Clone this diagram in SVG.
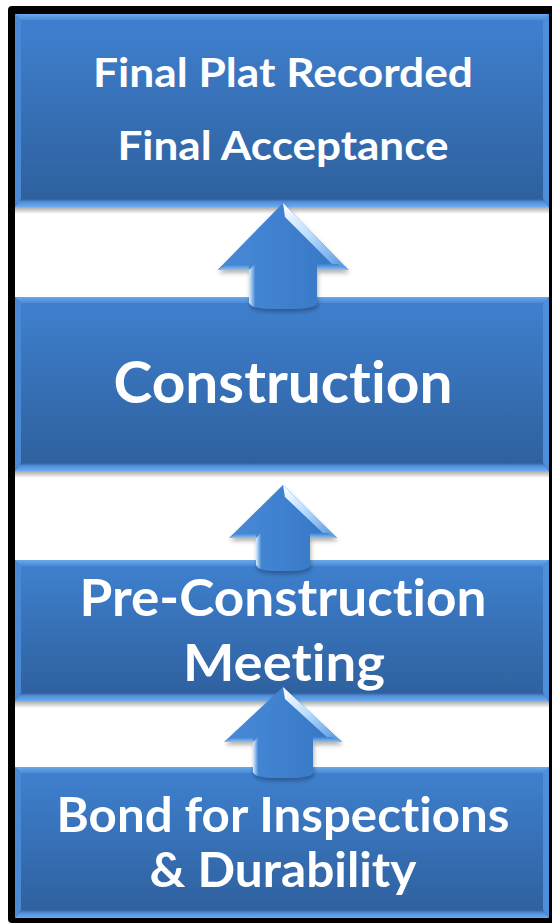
<svg xmlns="http://www.w3.org/2000/svg" width="552" height="924" viewBox="0 0 552 924">
<style>
.t{font-family:Lato,"Open Sans","Liberation Sans",sans-serif;font-weight:700;fill:#ffffff;text-anchor:middle;font-variant-ligatures:none;font-feature-settings:"liga" 0,"clig" 0}
.face{fill:url(#boxFill)}
.bt{fill:url(#bevTop)}
.bl{fill:#4a89d5}
.br{fill:#4d8fdb}
.bb{fill:url(#bevBot)}
.sh{fill:url(#shadow)}
.arrow{fill:url(#arrFill);filter:url(#ds)}
.glint{fill:url(#glint)}
.wing{fill:url(#wingHi)}
.sl{fill:url(#shaftL)}
</style>
<defs>
<linearGradient id="boxFill" x1="0" y1="0" x2="0" y2="1">
<stop offset="0" stop-color="#3f81d0"/>
<stop offset="1" stop-color="#2e5f9c"/>
</linearGradient>
<linearGradient id="bevTop" x1="0" y1="0" x2="0" y2="1">
<stop offset="0" stop-color="#6aa7ea"/>
<stop offset="1" stop-color="#4b8ad6"/>
</linearGradient>
<linearGradient id="bevBot" x1="0" y1="0" x2="0" y2="1">
<stop offset="0" stop-color="#2f619f"/>
<stop offset="0.35" stop-color="#4f8fd8"/>
<stop offset="1" stop-color="#6eaaee"/>
</linearGradient>
<linearGradient id="shadow" x1="0" y1="0" x2="0" y2="1">
<stop offset="0" stop-color="#000" stop-opacity="0.35"/>
<stop offset="1" stop-color="#000" stop-opacity="0"/>
</linearGradient>
<linearGradient id="arrFill" x1="0" y1="0" x2="1" y2="0">
<stop offset="0" stop-color="#4889d8"/>
<stop offset="0.5" stop-color="#3f81cf"/>
<stop offset="1" stop-color="#3574c2"/>
</linearGradient>
<linearGradient id="glint" x1="0" y1="0" x2="1" y2="1">
<stop offset="0" stop-color="#ffffff"/>
<stop offset="0.45" stop-color="#b9dcff"/>
<stop offset="1" stop-color="#4f90dc"/>
</linearGradient>
<linearGradient id="wingHi" x1="0" y1="0" x2="0" y2="1">
<stop offset="0" stop-color="#3d7fcd"/>
<stop offset="1" stop-color="#8cc2f5"/>
</linearGradient>
<linearGradient id="shaftL" x1="0" y1="0" x2="1" y2="0">
<stop offset="0" stop-color="#d8efff"/>
<stop offset="1" stop-color="#4a8ad6"/>
</linearGradient>
<filter id="ds" x="-20%" y="-20%" width="140%" height="150%">
<feGaussianBlur in="SourceAlpha" stdDeviation="2"/>
<feOffset dx="1" dy="3" result="b"/>
<feFlood flood-color="#000" flood-opacity="0.3"/>
<feComposite in2="b" operator="in" result="s"/>
<feMerge><feMergeNode in="s"/><feMergeNode in="SourceGraphic"/></feMerge>
</filter>
</defs>

<g id="frame">
<rect x="8" y="6" width="552" height="917" rx="4" fill="#000"/>
<rect x="15" y="14" width="534" height="904" fill="#fff"/>
</g>

<g id="box-final">
<rect class="face" x="15" y="14" width="534" height="193"/>
<polygon class="bt" points="15,14 549,14 543,20 21,20"/>
<polygon class="bl" points="15,14 21,20 21,199 15,207"/>
<polygon class="br" points="549,14 549,207 543,199 543,20"/>
<polygon class="bb" points="15,207 21,199 543,199 549,207"/>
<rect class="sh" x="15" y="207" width="534" height="7"/>
<text class="t" x="283" y="87" font-size="41" textLength="380" lengthAdjust="spacingAndGlyphs">Final Plat Recorded</text>
<text class="t" x="283" y="160" font-size="41" textLength="331" lengthAdjust="spacingAndGlyphs">Final Acceptance</text>
</g>

<g id="box-construction">
<rect class="face" x="15" y="297" width="534" height="174"/>
<polygon class="bt" points="15,297 549,297 543,303 21,303"/>
<polygon class="bl" points="15,297 21,303 21,463 15,471"/>
<polygon class="br" points="549,297 549,471 543,463 543,303"/>
<polygon class="bb" points="15,471 21,463 543,463 549,471"/>
<rect class="sh" x="15" y="471" width="534" height="7"/>
<text class="t" x="283" y="403" font-size="57" textLength="339" lengthAdjust="spacingAndGlyphs">Construction</text>
</g>

<g id="box-preconstruction">
<rect class="face" x="15" y="560" width="534" height="141"/>
<polygon class="bt" points="15,560 549,560 543,566 21,566"/>
<polygon class="bl" points="15,560 21,566 21,693 15,701"/>
<polygon class="br" points="549,560 549,701 543,693 543,566"/>
<polygon class="bb" points="15,701 21,693 543,693 549,701"/>
<rect class="sh" x="15" y="701" width="534" height="7"/>
<text class="t" x="283" y="616" font-size="52" textLength="407" lengthAdjust="spacingAndGlyphs">Pre-Construction</text>
<text class="t" x="284" y="681" font-size="52" textLength="202" lengthAdjust="spacingAndGlyphs">Meeting</text>
</g>

<g id="box-bond">
<rect class="face" x="15" y="767" width="534" height="151"/>
<polygon class="bt" points="15,767 549,767 543,773 21,773"/>
<polygon class="bl" points="15,767 21,773 21,910 15,918"/>
<polygon class="br" points="549,767 549,918 543,910 543,773"/>
<polygon class="bb" points="15,918 21,910 543,910 549,918"/>
<text class="t" x="283" y="832" font-size="47" textLength="453" lengthAdjust="spacingAndGlyphs">Bond for Inspections</text>
<text class="t" x="283" y="887" font-size="47" textLength="267" lengthAdjust="spacingAndGlyphs">&amp; Durability</text>
</g>

<g id="connectors">
<g id="arrow1">
<path class="arrow" d="M283,203 L348.5,270 L317,270 L317,303 Q317,309 283,309 Q249,309 249,303 L249,270 L217.5,270 Z"/>
<polygon class="glint" points="283,203 348.5,270 334,266 285,217"/>
<polygon class="wing" points="217.5,270 228,264 249,264 249,270"/>
<polygon class="wing" points="317,264 338,264 348.5,270 317,270"/>
<path class="sl" d="M249,270 L255,264 L255,307 Q251,306 249,303 Z"/>
</g>
<g id="arrow2">
<path class="arrow" d="M283,485 L337,538 L310,538 L310,565 Q310,571 283,571 Q256,571 256,565 L256,538 L229,538 Z"/>
<polygon class="glint" points="283,485 337,538 325,535 285,497"/>
<polygon class="wing" points="229,538 238,533 256,533 256,538"/>
<polygon class="wing" points="310,533 328,533 337,538 310,538"/>
<path class="sl" d="M256,538 L261,533 L261,569 Q258,568 256,565 Z"/>
</g>
<g id="arrow3">
<path class="arrow" d="M283,687 L342,742 L313,742 L313,772 Q313,778 283,778 Q253,778 253,772 L253,742 L224,742 Z"/>
<polygon class="glint" points="283,687 342,742 329,739 285,699"/>
<polygon class="wing" points="224,742 234,737 253,737 253,742"/>
<polygon class="wing" points="313,737 332,737 342,742 313,742"/>
<path class="sl" d="M253,742 L258,737 L258,776 Q255,775 253,772 Z"/>
</g>
</g>
</svg>
